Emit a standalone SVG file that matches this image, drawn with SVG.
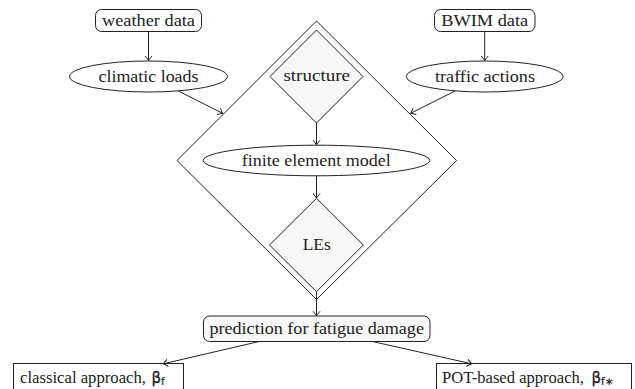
<svg xmlns="http://www.w3.org/2000/svg" width="635" height="389" viewBox="0 0 635 389">
<defs>
<style>
.n{stroke:#222;stroke-width:1;fill:#fff}
.g{fill:#f7f7f7}
.t{font-family:'Liberation Serif','DejaVu Serif',serif;font-size:16.5px;fill:#222;text-anchor:middle}
.s{text-anchor:start}
.b{font-family:'DejaVu Sans',sans-serif;font-size:15px;fill:#222;stroke:#222;stroke-width:0.3}
.bs{font-family:'DejaVu Sans',sans-serif;font-size:10.5px;fill:#222;stroke:#222;stroke-width:0.2}
.c{stroke:#222;stroke-width:1;fill:none;marker-end:url(#ah)}
</style>
<marker id="ah" markerUnits="userSpaceOnUse" markerWidth="12" markerHeight="12" refX="0" refY="0" viewBox="-6 -6 12 12" orient="auto" overflow="visible">
<path d="M-4.5,-3.5 Q-1.5,-1 0,0 Q-1.5,1 -4.5,3.5" fill="none" stroke="#222" stroke-width="1"/>
</marker>
</defs>
<g id="big-diamond"><polygon class="n" points="316.5,21 456.5,160.5 316.5,299.5 177,160.5"/></g>
<g id="weather-data"><rect class="n" x="95.5" y="9.5" width="106" height="22" rx="6"/><text class="t" x="148.5" y="26" textLength="93" lengthAdjust="spacingAndGlyphs">weather data</text></g>
<g id="climatic-loads"><ellipse class="n" cx="148.5" cy="76.5" rx="79" ry="15.5"/><text class="t" x="148.5" y="81.5" textLength="100" lengthAdjust="spacingAndGlyphs">climatic loads</text></g>
<g id="bwim-data"><rect class="n" x="434.5" y="9.5" width="100.5" height="22" rx="6"/><text class="t" x="484.7" y="26" textLength="87" lengthAdjust="spacingAndGlyphs">BWIM data</text></g>
<g id="traffic-actions"><ellipse class="n" cx="484.7" cy="76.5" rx="78.5" ry="15.5"/><text class="t" x="485" y="81.5" textLength="100" lengthAdjust="spacingAndGlyphs">traffic actions</text></g>
<g id="structure"><polygon class="n g" points="316.5,30 363,76.5 316.5,123 270,76.5"/><text class="t" x="316.7" y="81" textLength="66.5" lengthAdjust="spacingAndGlyphs">structure</text></g>
<g id="fem"><ellipse class="n" cx="316.5" cy="160.5" rx="113.3" ry="15.3"/><text class="t" x="316.3" y="166" textLength="149" lengthAdjust="spacingAndGlyphs">finite element model</text></g>
<g id="les"><polygon class="n g" points="316.5,198.3 363.3,245 316.5,291.7 269.5,245"/><text class="t" x="316.7" y="250" textLength="28" lengthAdjust="spacingAndGlyphs">LEs</text></g>
<g id="prediction"><rect class="n g" x="203.5" y="316" width="226.5" height="25.5" rx="6"/><text class="t" x="316.7" y="333.5" textLength="214.5" lengthAdjust="spacingAndGlyphs">prediction for fatigue damage</text></g>
<g id="classical"><rect class="n" x="13.5" y="363.5" width="170" height="30"/><text class="t s" x="20" y="382.7" textLength="126" lengthAdjust="spacingAndGlyphs">classical approach,</text><text class="b" x="151.5" y="382.7">β</text><text class="bs" x="161" y="385">f</text></g>
<g id="pot"><rect class="n" x="436.5" y="363.5" width="195" height="30"/><text class="t s" x="442" y="382.7" textLength="142" lengthAdjust="spacingAndGlyphs">POT-based approach,</text><text class="b" x="591.5" y="382.7">β</text><text class="bs" x="601" y="385">f∗</text></g>
<g id="connectors">
<line class="c" x1="148.5" y1="31.5" x2="148.5" y2="60.5"/>
<line class="c" x1="484.7" y1="31.5" x2="484.7" y2="60.5"/>
<line class="c" x1="178.3" y1="91" x2="222.7" y2="113.3"/>
<line class="c" x1="455" y1="91" x2="410.7" y2="113.3"/>
<line class="c" x1="316.5" y1="123" x2="316.5" y2="144.8"/>
<line class="c" x1="316.5" y1="175.8" x2="316.5" y2="198"/>
<line class="c" x1="316.5" y1="291.7" x2="316.5" y2="315.8"/>
<line class="c" x1="258.3" y1="341.7" x2="163.3" y2="363.8"/>
<line class="c" x1="373.3" y1="341.7" x2="471.7" y2="363.8"/>
</g>
</svg>
